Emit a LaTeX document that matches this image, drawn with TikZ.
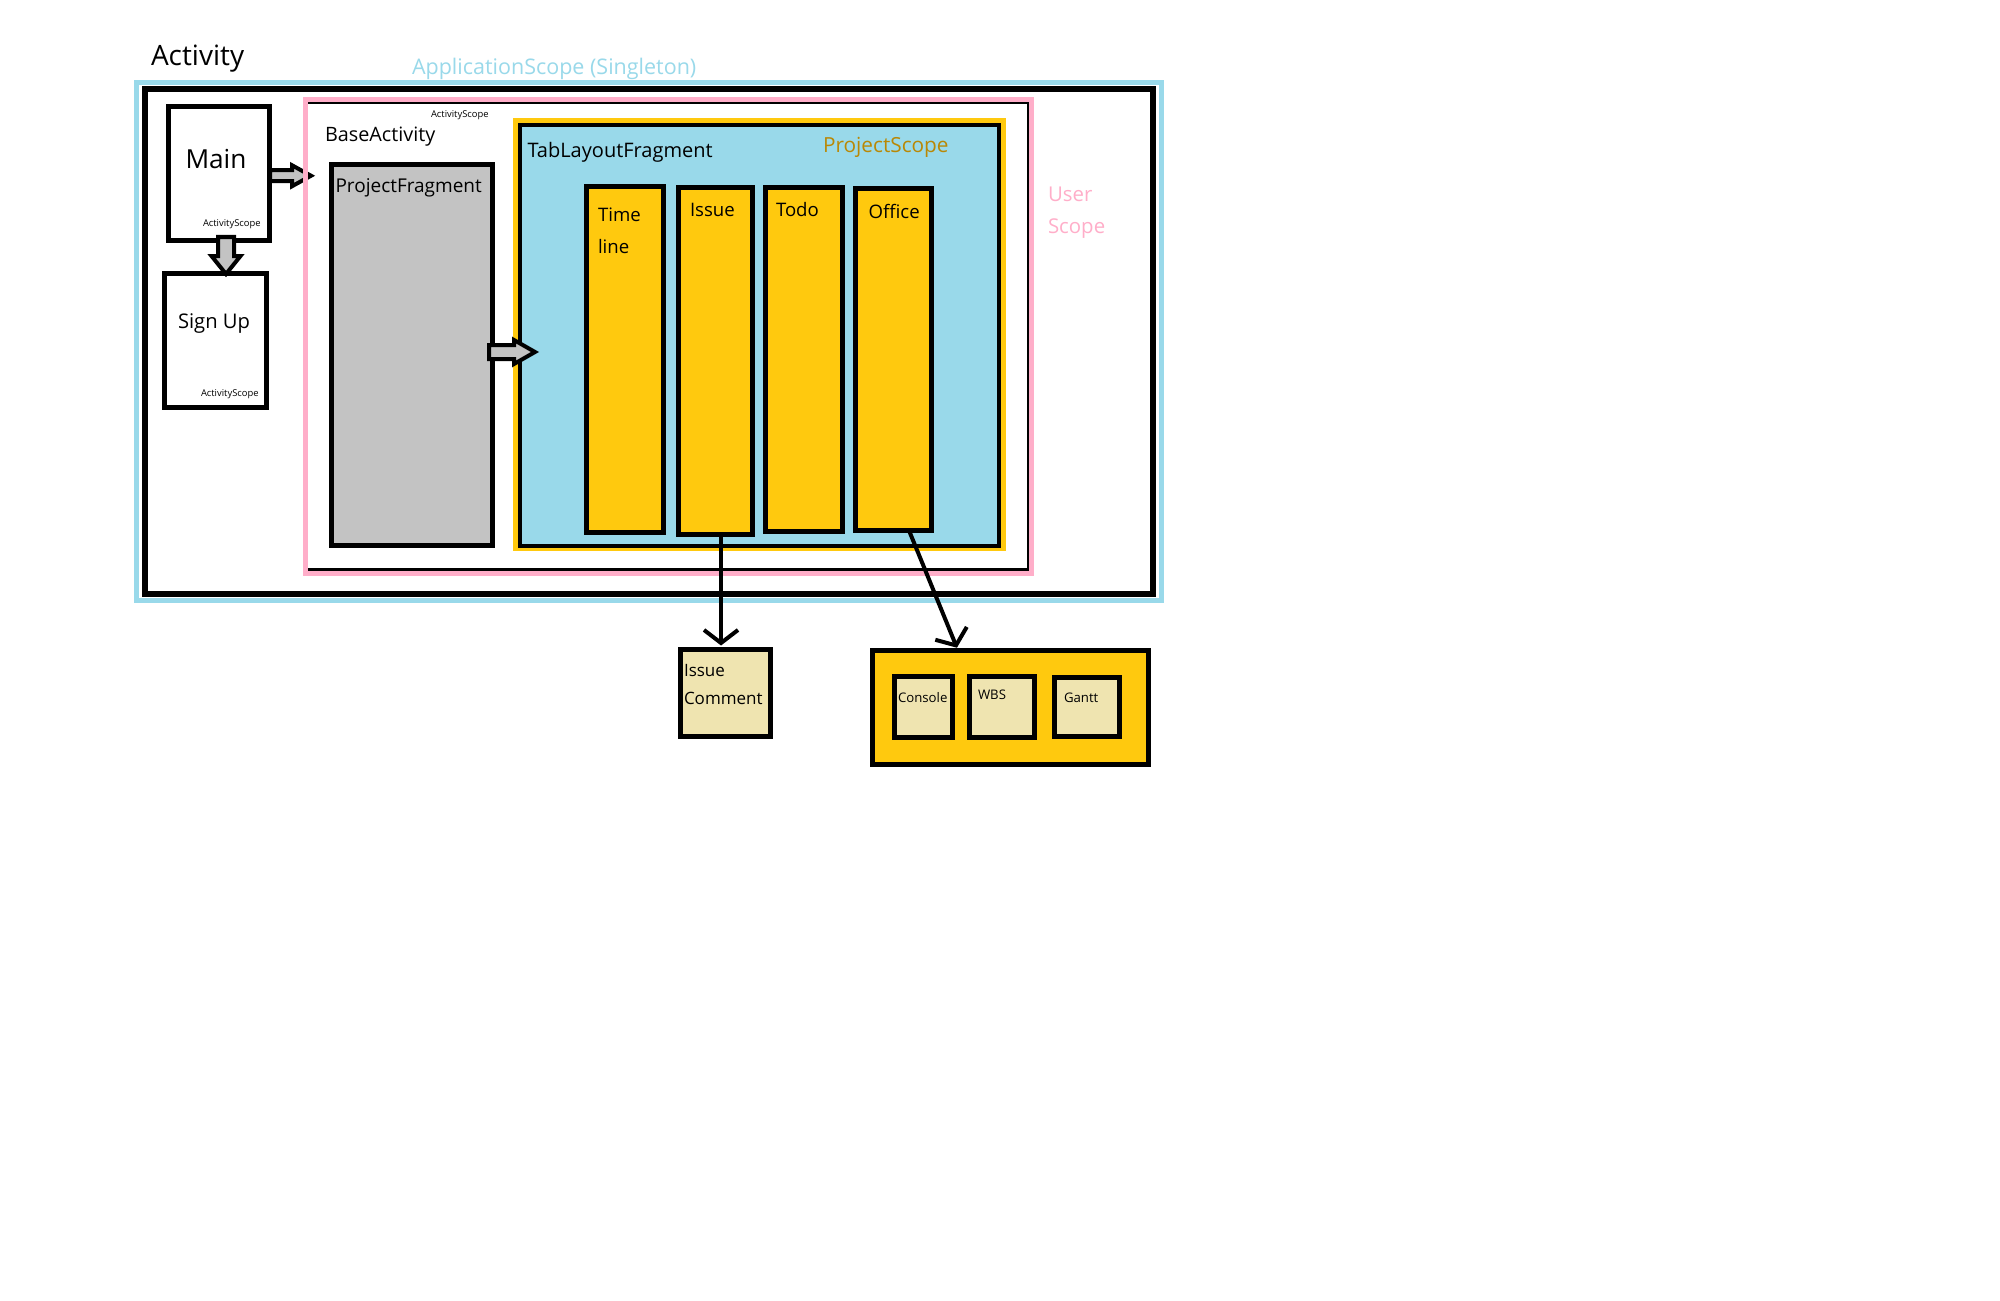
\documentclass[tikz,border=0pt]{standalone}
\usepackage{fontspec}
\setmainfont{Open Sans}
\usetikzlibrary{fit,calc,arrows.meta}
\definecolor{pyellow}{RGB}{255,201,14}
\definecolor{pblue}{RGB}{153,217,234}
\definecolor{ppink}{RGB}{255,174,201}
\definecolor{pcream}{RGB}{239,228,176}
\definecolor{pgray}{RGB}{195,195,195}
\definecolor{pgold}{RGB}{185,136,5}
\newcommand\myfs[2]{\fontsize{#1}{#2}\selectfont}
\begin{document}
\begin{tikzpicture}[x=0.5pt,y=-0.5pt,
  box/.style={draw=black,line width=2.5pt,inner sep=0pt,outer sep=0pt},
  frame/.style={inner sep=0pt,outer sep=0pt},
  lbl/.style={anchor=base west,inner sep=0pt,outer sep=0pt,align=left},
  thinarrow/.style={draw=black,line width=2pt,-{Straight Barb[length=6.5pt,width=17pt]}},
  fatright/.style n args={3}{draw=black,fill=pgray,line width=2pt,line join=miter,
    to path={let \p1=(\tikztostart), \p2=(\tikztotarget) in
      (\x1,\y1+#1) -- (\x2-#3,\y1+#1) -- (\x2-#3,\y1+#2) -- (\x2,\y1)
      -- (\x2-#3,\y1-#2) -- (\x2-#3,\y1-#1) -- (\x1,\y1-#1) -- cycle}},
  fatdown/.style n args={3}{draw=black,fill=pgray,line width=2pt,line join=miter,
    to path={let \p1=(\tikztostart), \p2=(\tikztotarget) in
      (\x1-#1,\y1) -- (\x1-#1,\y2+#3) -- (\x1-#2,\y2+#3) -- (\x1,\y2)
      -- (\x1+#2,\y2+#3) -- (\x1+#1,\y2+#3) -- (\x1+#1,\y1) -- cycle}}
]
\useasboundingbox[fill=white] (0,0) rectangle (2000,1300);

% outer frames
\node[frame,draw=pblue,line width=2.5pt,fit={(136.5,82.5) (1161.5,600.5)}] (appscope) {};
\node[frame,draw=black,line width=3pt,fit={(145,89.5) (1153,594)}] (activity) {};

% activities
\node[box,fill=white,fit={(168,106.5) (269.5,240.5)}] (main) {};
\node[box,fill=white,fit={(164.5,273.5) (266.5,407.5)}] (signup) {};

% Main -> BaseActivity (drawn below the pink frame)
\coordinate (m2bA) at ([shift={(0.5,2.25)}]main.east);
\coordinate (m2bB) at ([shift={(41.5,2.25)}]main.east);
\draw[fatright={2.75pt}{5.25pt}{9.5pt}] (m2bA) to (m2bB);

% user scope / base activity
\node[frame,draw=ppink,line width=2.5pt,fit={(305.5,99.5) (1031.5,573.5)}] (userscope) {};
\draw[black,line width=1.25pt] (308,103) -- (1028,103) -- (1028,569.5) -- (308,569.5);

% project fragment
\node[box,fill=pgray,fit={(331.5,164.5) (492,545.5)}] (pf) {};

% project scope / tab layout
\node[frame,fill=pyellow,fit={(513,118) (1006,551)}] (pscope) {};
\node[frame,draw=black,line width=2pt,fill=pblue,fit={(519.5,125.5) (999,545.5)}] (tabl) {};

% tabs
\node[box,fill=pyellow,fit={(586.5,186.5) (663.5,532.5)}] (timeline) {};
\node[box,fill=pyellow,fit={(678.5,187.5) (752.5,534.5)}] (issue) {};
\node[box,fill=pyellow,fit={(765.5,187.5) (842.5,531.5)}] (todo) {};
\node[box,fill=pyellow,fit={(855.5,188.5) (931.5,530.5)}] (office) {};

% bottom boxes
\node[box,fill=pcream,fit={(680.5,649.5) (770.5,736.5)}] (comment) {};
\node[box,fill=pyellow,fit={(872.5,650.5) (1148,764)}] (officebox) {};
\node[box,fill=pcream,fit={(894.5,676.5) (952,737.5)}] (console) {};
\node[box,fill=pcream,fit={(969.5,676.5) (1034.5,737.5)}] (wbs) {};
\node[box,fill=pcream,fit={(1054.5,677.5) (1119.5,736.5)}] (gantt) {};

% fat arrows
\coordinate (m2sA) at ([shift={(7.25,-3.5)}]main.south);
\coordinate (m2sB) at ([shift={(10.5,0.5)}]signup.north);
\draw[fatdown={4pt}{7.25pt}{9pt}] (m2sA) to (m2sB);
\coordinate (p2tA) at ([shift={(-3,-3)}]pf.east);
\coordinate (p2tB) at ([shift={(43,-3)}]pf.east);
\draw[fatright={3.5pt}{6pt}{10.5pt}] (p2tA) to (p2tB);

% thin arrows
\draw[thinarrow,shorten >=2pt] ([xshift=2.75pt]issue.south) -- ([xshift=-2.25pt]comment.north);
\draw[thinarrow,shorten >=1.5pt] ([xshift=7.75pt]office.south) -- ([xshift=-26.1pt]officebox.north);

% labels
\node[lbl,font=\myfs{14}{17}] (activitylbl) at (151,66) {Activity};
\node[lbl,text=pblue,font=\myfs{10.75}{13}] (applbl) at (412,75) {ApplicationScope (Singleton)};
\node[lbl,font=\myfs{13.1}{16}] (mainlbl) at (185.5,169) {Main};
\node[lbl,font=\myfs{4.7}{6}] (mainscope) at (203,227) {ActivityScope};
\node[lbl,font=\myfs{10.1}{12}] (signuplbl) at (178,328) {Sign Up};
\node[lbl,font=\myfs{4.7}{6}] (signupscope) at (201,396) {ActivityScope};
\node[lbl,font=\myfs{4.7}{6}] (basescope) at (431,118) {ActivityScope};
\node[lbl,font=\myfs{9.9}{12}] (baselbl) at (325,142) {BaseActivity};
\node[lbl,font=\myfs{9.5}{12}] (pflbl) at (335.5,192) {ProjectFragment};
\node[lbl,font=\myfs{10}{12}] (tabllbl) at (527.5,157.5) {TabLayoutFragment};
\node[lbl,text=pgold,font=\myfs{10.4}{12}] (pscopelbl) at (823,153) {ProjectScope};
\node[lbl,font=\myfs{9.3}{16}] (timelinelbl) at (598,253) {Time\\line};
\node[lbl,font=\myfs{9.3}{16}] (issuelbl) at (690,217) {Issue};
\node[lbl,font=\myfs{9.3}{16}] (todolbl) at (776,217) {Todo};
\node[lbl,font=\myfs{9.3}{16}] (officelbl) at (868.6,219) {Office};
\node[lbl,text=ppink,font=\myfs{10.2}{16}] (userlbl) at (1048,234) {User\\Scope};
\node[lbl,font=\myfs{8.5}{14}] (commentlbl) at (684,704) {Issue\\Comment};
\node[lbl,font=\myfs{6.6}{8}] (consolelbl) at (898,702) {Console};
\node[lbl,font=\myfs{6.6}{8}] (wbslbl) at (978,699) {WBS};
\node[lbl,font=\myfs{6.6}{8}] (ganttlbl) at (1064,702) {Gantt};
\end{tikzpicture}
\end{document}
